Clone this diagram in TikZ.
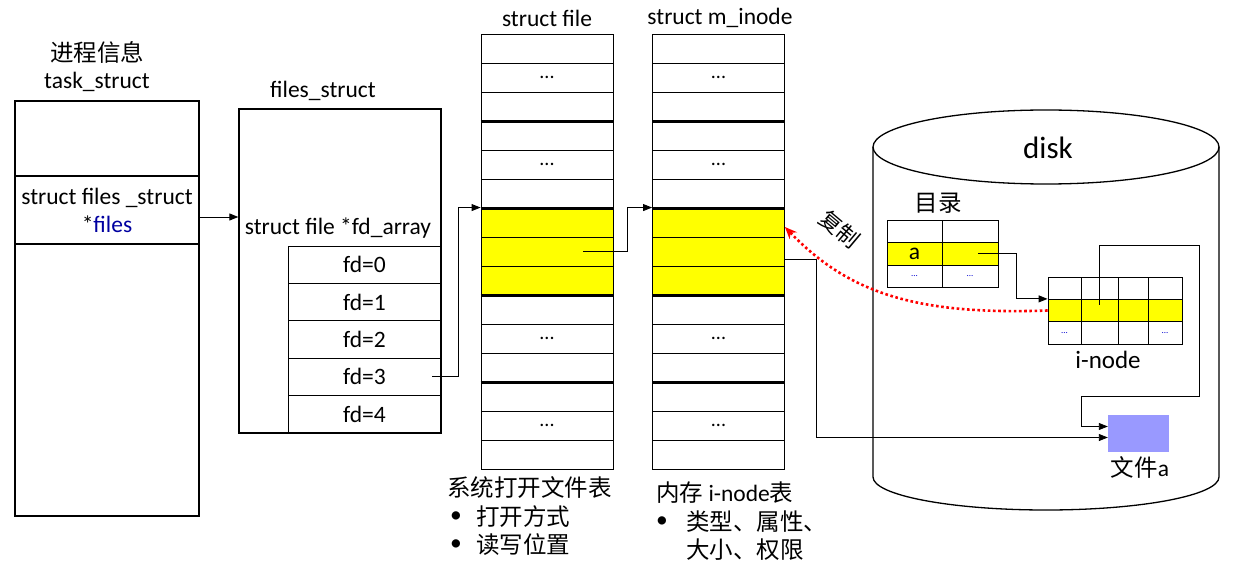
\documentclass[tikz,border=0pt]{standalone}
\usepackage{fontspec}
\setmainfont{Carlito}
\newfontfamily\cjk{Noto Sans CJK SC}
\usetikzlibrary{arrows.meta}
\definecolor{hl}{RGB}{255,255,0}
\definecolor{fileblue}{RGB}{153,153,255}
\definecolor{ptrblue}{RGB}{0,0,160}
\definecolor{dotblue}{RGB}{0,0,210}
\newcommand\celldots{...}
\begin{document}
\begin{tikzpicture}[x=1pt,y=-1pt,
  every node/.style={font=\fontsize{23.5}{28}\selectfont, inner sep=0pt},
  outer/.style={draw, line width=1.3pt},
  cellbox/.style={draw, line width=0.9pt},
  sfcell/.style={cellbox, minimum width=132pt, minimum height=29pt},
  fdcell/.style={cellbox, minimum width=153pt, minimum height=37.4pt},
  thickline/.style={line width=3pt},
  conn/.style={line width=0.9pt, -{Triangle[length=9pt,width=7pt]}},
  copyarrow/.style={red, line width=2.6pt, dash pattern=on 2.6pt off 2.6pt, -{Stealth[length=12pt,width=10pt]}},
  smalldots/.style={font=\fontsize{9}{10}\selectfont, text=dotblue},
  dots/.style={font=\fontsize{20}{24}\selectfont}]
\useasboundingbox (0,0) rectangle (1233,569);

% ---------- task_struct ----------
\node (tslbl1) at (97,52) {\cjk 进程信息};
\node (tslbl2) at (97,82) {task\_struct};
\node[outer, minimum width=184pt, minimum height=75pt] (ts1) at (107,138.5) {};
\node[outer, minimum width=184pt, minimum height=68pt, align=center] (ts2) at (107,210)
  {struct files \_struct\\*{\color{ptrblue}files}};
\node[outer, minimum width=184pt, minimum height=272pt] (ts3) at (107,380) {};

% ---------- files_struct ----------
\node (fslbl) at (323,91) {files\_struct};
\node[outer, minimum width=202pt, minimum height=324pt] (fs) at (340,271) {};
\node (fdarr) at (338,228) {struct file *fd\_array};
\foreach \i in {0,1,2,3,4}{
  \node[fdcell] (fd\i) at (364.5,{246+37.4*(\i+0.5)}) {fd=\i};
}

% ---------- struct file ----------
\node (sflbl) at (547,18) {struct file};
\foreach \i/\f/\t in {1/white/{},2/white/\celldots,3/white/{},4/white/{},5/white/\celldots,6/white/{},
  7/hl/{},8/hl/{},9/hl/{},10/white/{},11/white/\celldots,12/white/{},13/white/{},14/white/\celldots,15/white/{}}{
  \node[sfcell, fill=\f, dots] (sf\i) at (547,{34+29*(\i-0.5)}) {\t};
}
\foreach \k in {3,6,9,12}{
  \draw[thickline] (sf\k.south west) -- (sf\k.south east);
}

% ---------- struct m_inode ----------
\node (milbl) at (720,18) {struct m\_inode};
\foreach \i/\f/\t in {1/white/{},2/white/\celldots,3/white/{},4/white/{},5/white/\celldots,6/white/{},
  7/hl/{},8/hl/{},9/hl/{},10/white/{},11/white/\celldots,12/white/{},13/white/{},14/white/\celldots,15/white/{}}{
  \node[sfcell, fill=\f, dots] (mi\i) at (718.5,{34+29*(\i-0.5)}) {\t};
}
\foreach \k in {3,6,9,12}{
  \draw[thickline] (mi\k.south west) -- (mi\k.south east);
}

% ---------- captions ----------
\node[anchor=west] (cap1) at (447,488) {\cjk 系统打开文件表};
\node (b1) at (456,517) {\textbullet};
\node[anchor=west] (cap1a) at (476,517) {\cjk 打开方式};
\node (b2) at (456,545) {\textbullet};
\node[anchor=west] (cap1b) at (476,545) {\cjk 读写位置};
\node[anchor=west] (cap2) at (656,493) {{\cjk 内存} i-node{\cjk 表}};
\node (b3) at (662,522) {\textbullet};
\node[anchor=west] (cap2a) at (686,522) {\cjk 类型、属性、};
\node[anchor=west] (cap2b) at (686,550) {\cjk 大小、权限};

% ---------- disk ----------
\draw[line width=1.3pt, fill=white] (873,147) -- (873,477)
  arc[start angle=180, end angle=360, x radius=173pt, y radius=33pt] -- (1219,147);
\draw[line width=1.3pt] (1046,147) ellipse[x radius=173pt, y radius=37pt];
\node[font=\fontsize{31}{36}\selectfont] (disklbl) at (1048,148) {disk};

% directory table
\node (dirlbl) at (938,203) {\cjk 目录};
\foreach \r/\y/\f in {1/231.25/white,2/253.75/hl,3/276.25/white}{
  \node[cellbox, fill=\f, minimum width=55pt, minimum height=22.5pt] (dir\r1) at (914.5,\y) {};
  \node[cellbox, fill=\f, minimum width=56pt, minimum height=22.5pt] (dir\r2) at (970,\y) {};
}
\node (dira) at (dir21) {a};
\node[smalldots] (dird1) at (dir31) {\celldots};
\node[smalldots] (dird2) at (dir32) {\celldots};

% i-node table
\foreach \r/\y/\f in {1/288.2/white,2/310.5/hl,3/332.8/white}{
  \node[cellbox, fill=\f, minimum width=33pt, minimum height=22.33pt] (in\r1) at (1064.5,\y) {};
  \node[cellbox, fill=\f, minimum width=37pt, minimum height=22.33pt] (in\r2) at (1099.5,\y) {};
  \node[cellbox, fill=\f, minimum width=30pt, minimum height=22.33pt] (in\r3) at (1133,\y) {};
  \node[cellbox, fill=\f, minimum width=34pt, minimum height=22.33pt] (in\r4) at (1165,\y) {};
}
\node[smalldots] (ind1) at (in31) {\celldots};
\node[smalldots] (ind2) at (in34) {\celldots};
\node[font=\fontsize{25}{30}\selectfont] (inlbl) at (1108,360) {i-node};

% file a
\node[fill=fileblue, minimum width=61pt, minimum height=37pt] (filea) at (1138.5,433.5) {};
\node (filealbl) at (1140,467) {{\cjk 文件}a};

% ---------- connectors ----------
\draw[conn] ([yshift=-7pt]ts2.east) -- ([yshift=-7pt]ts2.east -| fs.west);
\draw[conn] ([xshift=-9pt]fd3.east) -- ++(26,0) |- (sf7.north west);
\draw[conn] ([xshift=36pt]sf8.center) -- ++(44,0) |- (mi7.north west);
\draw[conn] ([yshift=-8pt]mi8.east) -- ++(31,0) |- ([yshift=-4pt]filea.west);
\draw[conn] ([xshift=8pt]dir22.center) -- ++(38,0) |- (in21.north west);
\draw[conn] ([yshift=6pt]in22.center) -- ++(0,-59) -- ++(100,0) -- ++(0,151) -- ++(-118,0)
  |- ([yshift=7pt]filea.west);

% copy arrow
\draw[copyarrow] (in21.west) .. controls (920,315) and (850,295) .. ([yshift=-4.5pt]mi7.east);
\node[rotate=-40, font=\fontsize{22}{26}\selectfont] (copylbl) at (840,229) {\cjk 复制};
\end{tikzpicture}
\end{document}
